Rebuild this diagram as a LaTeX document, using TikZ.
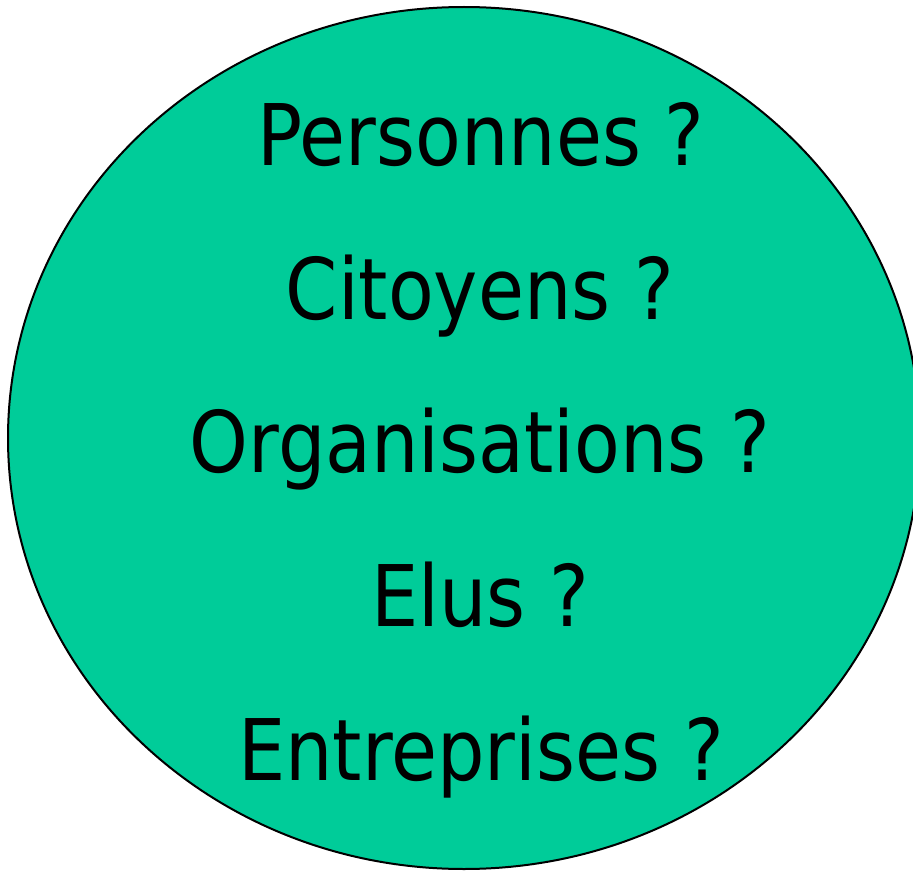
\documentclass[tikz,border=0pt]{standalone}
\usepackage{fontspec}
\setmainfont[FakeStretch=0.88]{DejaVu Sans}
\definecolor{discfill}{HTML}{00CC99}
\begin{document}
\begin{tikzpicture}[x=1pt,y=1pt,
  label text/.style={anchor=base,inner sep=0pt,font=\fontsize{85}{100}\selectfont,text=black}]
\useasboundingbox (0,0) rectangle (913,-872);
\draw[line width=2pt,fill=discfill] (464,-438) ellipse [x radius=456,y radius=431];
\node[label text] (personnes) at (481,-165) {Personnes ?};
\node[label text] (citoyens) at (480,-319) {Citoyens ?};
\node[label text] (organisations) at (480,-472) {Organisations ?};
\node[label text] (elus) at (480,-626) {Elus ?};
\node[label text] (entreprises) at (481,-780) {Entreprises ?};
\end{tikzpicture}
\end{document}
